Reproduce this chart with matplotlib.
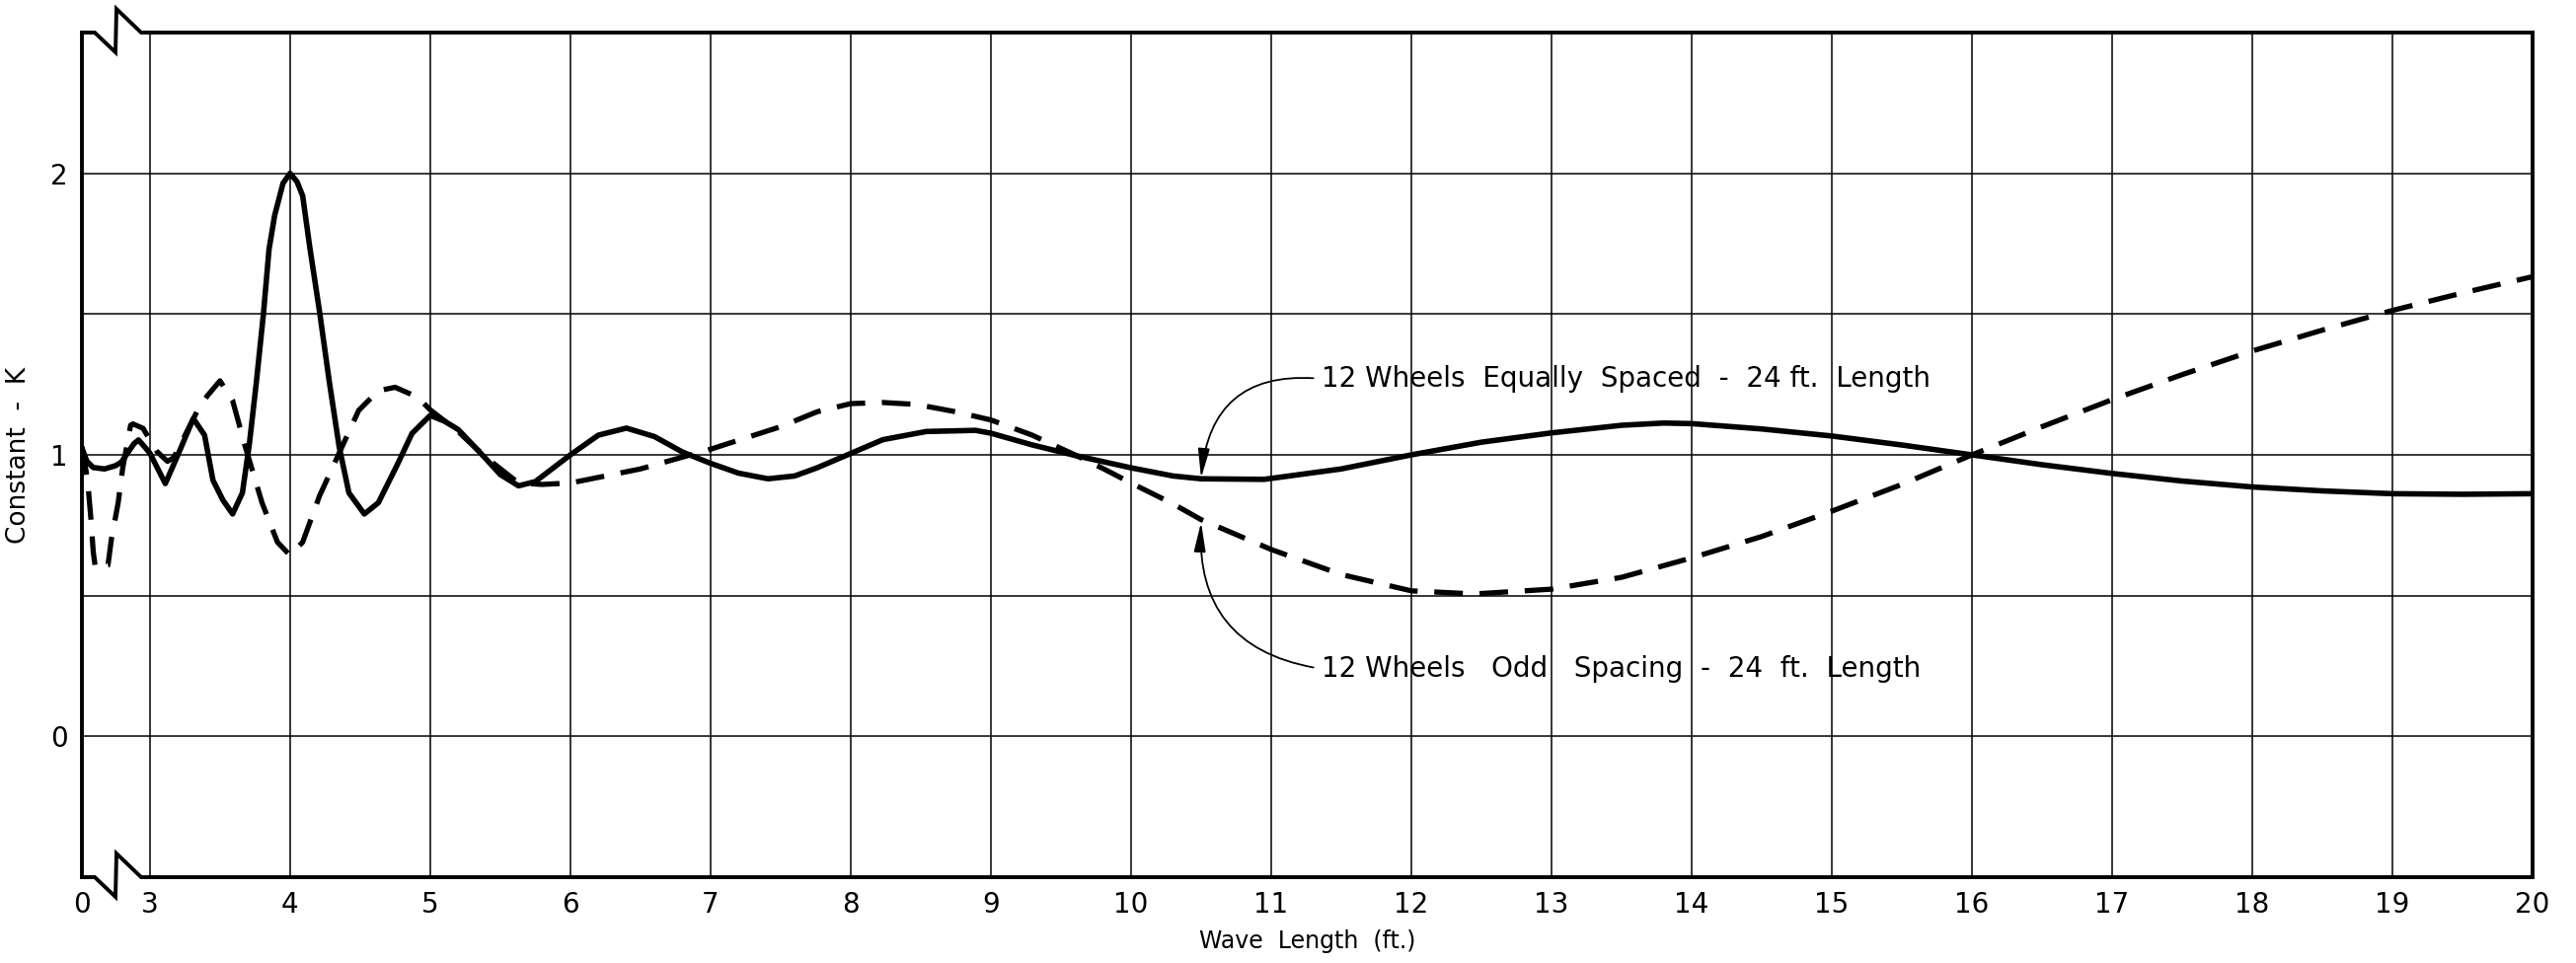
import matplotlib
matplotlib.use('Agg')
import matplotlib.pyplot as plt
import numpy as np

# wave length (ft.) and constant K
# values below 3 ft sit in the compressed (broken) part of the axis
equal_x = [0.0, 0.22, 0.5, 1.0, 1.5, 1.75, 2.3, 2.5, 2.75, 3.0,
           3.11, 3.2, 3.31, 3.39, 3.45, 3.52, 3.59, 3.66, 3.71, 3.76,
           3.81, 3.85, 3.89, 3.95, 4.0, 4.05, 4.09, 4.14, 4.21, 4.28,
           4.35, 4.42, 4.53, 4.63, 4.77, 4.87, 5.0, 5.1, 5.2, 5.39,
           5.5, 5.63, 5.75, 6.0, 6.2, 6.4, 6.6, 6.8, 7.0, 7.2,
           7.41, 7.6, 7.76, 8.0, 8.23, 8.54, 8.89, 9.0, 9.29, 9.6,
           10.0, 10.3, 10.5, 10.95, 11.5, 12.0, 12.5, 13.0, 13.5, 13.8,
           14.0, 14.5, 15.0, 15.5, 16.0, 16.5, 17.0, 17.5, 18.0, 18.5,
           19.0, 19.5, 20.0]
equal_k = [1.023, 0.977, 0.955, 0.95, 0.962, 0.975, 1.04, 1.053, 1.03, 1.006,
           0.898, 1.0, 1.129, 1.07, 0.91, 0.84, 0.79, 0.865, 1.04, 1.26,
           1.5, 1.73, 1.85, 1.965, 2.0, 1.97, 1.92, 1.74, 1.51, 1.26,
           1.03, 0.865, 0.79, 0.83, 0.97, 1.076, 1.14, 1.12, 1.09, 0.99,
           0.93, 0.89, 0.905, 1.0, 1.07, 1.095, 1.065, 1.01, 0.97, 0.935,
           0.915, 0.925, 0.954, 1.005, 1.054, 1.083, 1.087, 1.077, 1.036, 0.998,
           0.954, 0.925, 0.915, 0.913, 0.95, 1.0, 1.045, 1.078, 1.105, 1.113,
           1.111, 1.092, 1.067, 1.035, 1.0, 0.965, 0.934, 0.907, 0.886, 0.872,
           0.862, 0.86, 0.862]

odd_x = [0.0, 0.25, 0.4, 0.5, 0.6, 1.15, 1.3, 1.6, 1.8, 2.15,
         2.25, 2.7, 3.0, 3.05, 3.125, 3.17, 3.34, 3.41, 3.5, 3.59,
         3.68, 3.8, 3.91, 4.0, 4.09, 4.21, 4.35, 4.49, 4.63, 4.75,
         4.91, 5.0, 5.19, 5.39, 5.63, 5.8, 6.0, 6.5, 7.0, 7.5,
         7.76, 8.0, 8.23, 8.47, 8.75, 9.0, 9.29, 9.6, 9.81, 10.0,
         10.3, 10.5, 11.0, 11.5, 12.0, 12.45, 13.0, 13.5, 14.0, 14.5,
         15.0, 15.5, 16.0, 16.5, 17.0, 17.5, 18.0, 18.5, 19.0, 19.5,
         20.0]
odd_k = [1.03, 0.91, 0.77, 0.655, 0.596, 0.608, 0.70, 0.83, 0.953, 1.105,
         1.11, 1.094, 1.053, 1.012, 0.977, 0.99, 1.158, 1.21, 1.263, 1.193,
         1.03, 0.83, 0.69, 0.643, 0.69, 0.854, 1.006, 1.158, 1.228, 1.24,
         1.205, 1.16, 1.087, 0.994, 0.90, 0.895, 0.90, 0.95, 1.02, 1.10,
         1.153, 1.182, 1.186, 1.179, 1.153, 1.124, 1.071, 1.0, 0.949, 0.90,
         0.826, 0.77, 0.664, 0.575, 0.517, 0.506, 0.523, 0.565, 0.634, 0.71,
         0.80, 0.895, 1.0, 1.10, 1.196, 1.285, 1.369, 1.443, 1.513, 1.575,
         1.633]

x_ticks = [0, 3, 4, 5, 6, 7, 8, 9, 10, 11, 12, 13, 14, 15, 16, 17, 18, 19, 20]
x_ticklabels = ['0', '3', '4', '5', '6', '7', '8', '9', '10', '11', '12', '13',
                '14', '15', '16', '17', '18', '19', '20']
y_ticks = [0, 1, 2]
y_grid = [0, 0.5, 1, 1.5, 2]

label_equal = '12 Wheels  Equally  Spaced  -  24 ft.  Length'
label_odd = '12 Wheels   Odd   Spacing  -  24  ft.  Length'

# broken axis: 0..3 ft squeezed into half a unit
GAP = 0.485


def fwd(x):
    x = np.asarray(x, dtype=float)
    return np.where(x < 3, x * GAP / 3, x - 3 + GAP)


def inv(u):
    u = np.asarray(u, dtype=float)
    return np.where(u < GAP, u * 3 / GAP, u + 3 - GAP)


fig = plt.figure(figsize=(26.1, 9.76), dpi=100)
W, H = 2610, 976
left, right, top, bottom = 83, 2566, 33, 889
ax = fig.add_axes([left / W, 1 - bottom / H, (right - left) / W, (bottom - top) / H])
ax.set_xscale('function', functions=(fwd, inv))
ax.set_xlim(0, 20)
ax.set_ylim(-0.5, 2.5)

# grid
for gx in x_ticks[1:-1]:
    ax.axvline(gx, color='black', lw=1.1, zorder=1)
for gy in y_grid:
    ax.axhline(gy, color='black', lw=1.1, zorder=1)

ax.plot(equal_x, equal_k, color='black', lw=4.0, solid_joinstyle='round',
        solid_capstyle='round', zorder=3)
ax.plot(odd_x, odd_k, color='black', lw=3.8, dashes=(5.5, 3.2), zorder=3)

# frame with the break between 0 and 3
for s in ['left', 'right', 'top', 'bottom']:
    ax.spines[s].set_linewidth(2.8)
ax.spines['top'].set_bounds(3, 20)
ax.spines['bottom'].set_bounds(3, 20)
aw, ah = right - left, bottom - top
zx = np.array([0, 13, 34, 35, 60, 71]) / aw
zy = np.array([0, 0, -20, 24, 0, 0]) / ah
for base in (0.0, 1.0):
    ax.plot(zx, base + zy, color='black', lw=2.8, transform=ax.transAxes,
            clip_on=False, solid_joinstyle='miter', zorder=4)

ax.set_xticks(x_ticks)
ax.set_xticklabels(x_ticklabels)
ax.set_yticks(y_ticks)
ax.xaxis.set_minor_locator(plt.NullLocator())
ax.tick_params(axis='both', length=0, labelsize=20, pad=10)
ax.set_xlabel('Wave  Length  (ft.)', fontsize=17, labelpad=8)
ax.set_ylabel('Constant  -  K', fontsize=19, labelpad=14)

arrow = dict(arrowstyle='-|>,head_length=0.9,head_width=0.18', color='black',
             lw=1.3, shrinkA=4, shrinkB=0)
ax.annotate(label_equal, xy=(10.5, 0.918), xytext=(11.36, 1.27),
            fontsize=20, va='center', ha='left',
            arrowprops=dict(arrow, connectionstyle='arc3,rad=0.5', relpos=(0, 0.5)))
ax.annotate(label_odd, xy=(10.5, 0.76), xytext=(11.36, 0.24),
            fontsize=20, va='center', ha='left',
            arrowprops=dict(arrow, connectionstyle='arc3,rad=-0.45', relpos=(0, 0.5)))

fig.savefig('out.png', dpi=100)
